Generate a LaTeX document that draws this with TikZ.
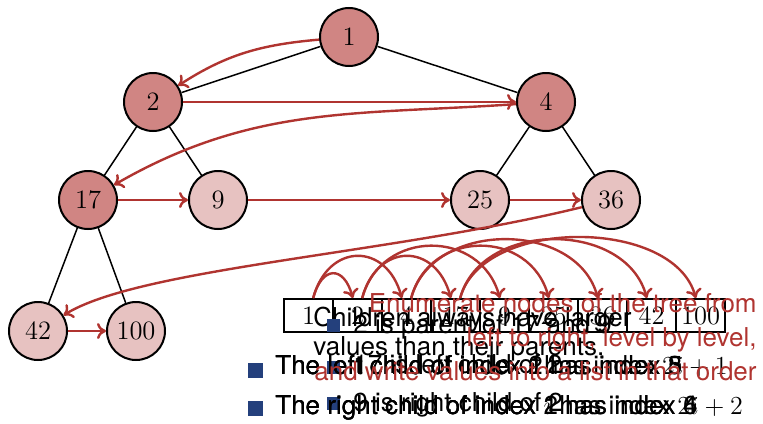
\RequirePackage{fix-cm}
\documentclass[tikz,border=0pt]{standalone}
\usepackage{fontspec}
\newfontfamily\sansf{TeX Gyre Heros}
\usetikzlibrary{arrows.meta}
\definecolor{arrred}{RGB}{176,52,48}
\colorlet{darkfill}{arrred!60!white}
\colorlet{lightfill}{arrred!30!white}
\definecolor{bulletblue}{RGB}{36,64,124}
\begin{document}
\begin{tikzpicture}[x=0.5pt,y=-0.5pt,
  treenode/.style={circle,draw=black,line width=1pt,minimum size=29pt,inner sep=0pt,font=\fontsize{13.25}{15}\selectfont},
  darknode/.style={treenode,fill=darkfill},
  lightnode/.style={treenode,fill=lightfill},
  treeedge/.style={draw=black,line width=0.75pt},
  enum/.style={draw=arrred,line width=1.2pt,-{To[length=4.5pt,width=8pt]}},
  arc/.style={enum,out=75,in=105},
  cell/.style={draw=black,line width=0.9pt,minimum width=24.5pt,minimum height=16.5pt,inner sep=0pt,font=\fontsize{13.25}{15}\selectfont},
  txt/.style={anchor=base west,inner sep=0pt,font=\sansf\fontsize{13}{15}\selectfont},
  redtxt/.style={anchor=base east,inner sep=0pt,text=arrred,font=\sansf\fontsize{13}{15}\selectfont},
  bigbullet/.style={fill=bulletblue,inner sep=0pt,minimum size=7.5pt},
  smallbullet/.style={fill=bulletblue,inner sep=0pt,minimum size=6.5pt}
]
\useasboundingbox (0,0) rectangle (763,423);

% tree nodes
\node[darknode] (n1) at (349,37) {1};
\node[darknode] (n2) at (153,102) {2};
\node[darknode] (n4) at (546,102) {4};
\node[darknode] (n17) at (88,200) {17};
\node[lightnode] (n9) at (218,200) {9};
\node[lightnode] (n25) at (480,200) {25};
\node[lightnode] (n36) at (611,200) {36};
\node[lightnode] (n42) at (38,331) {42};
\node[lightnode] (n100) at (136,331) {100};

% tree edges
\draw[treeedge] (n1) -- (n2);
\draw[treeedge] (n1) -- (n4);
\draw[treeedge] (n2) -- (n17);
\draw[treeedge] (n2) -- (n9);
\draw[treeedge] (n4) -- (n25);
\draw[treeedge] (n4) -- (n36);
\draw[treeedge] (n17) -- (n42);
\draw[treeedge] (n17) -- (n100);

% enumeration order
\draw[enum] (n1) to[out=185,in=33] (n2);
\draw[enum] (n2) -- (n4);
\draw[enum] (n4) to[out=184,in=30] (n17);
\draw[enum] (n17) -- (n9);
\draw[enum] (n9) -- (n25);
\draw[enum] (n25) -- (n36);
\draw[enum] (n36) .. controls (391,254) and (140,268) .. (n42);
\draw[enum] (n42) -- (n100);

% array
\node[cell] (c1) at (308.5,315.5) {1};
\node[cell] (c2) at (357.5,315.5) {2};
\node[cell] (c3) at (406.5,315.5) {4};
\node[cell] (c4) at (455.5,315.5) {17};
\node[cell] (c5) at (504.5,315.5) {9};
\node[cell] (c6) at (553.5,315.5) {25};
\node[cell] (c7) at (602.5,315.5) {36};
\node[cell] (c8) at (651.5,315.5) {42};
\node[cell] (c9) at (700.5,315.5) {100};

% parent -> child arcs
\draw[arc,distance=17pt] (c1) to (c2);
\draw[arc,distance=29pt] (c1) to (c3);
\draw[arc,distance=29pt] (c2) to (c4);
\draw[arc,distance=36pt] (c2) to (c5);
\draw[arc,distance=36pt] (c3) to (c6);
\draw[arc,distance=40.5pt] (c3) to (c7);
\draw[arc,distance=40.5pt] (c4) to (c8);
\draw[arc,distance=42pt] (c4) to (c9);

% texts
\node[txt] (ch1) at (313,326) {Children always have larger};
\node[txt] (ch2) at (313,355) {values than their parents.};

\node[smallbullet] (sb1) at (333.5,325) {};
\node[smallbullet] (sb2) at (333.5,367.5) {};
\node[smallbullet] (sb3) at (333.5,403.5) {};
\node[txt] (st1) at (353,333) {2 is parent of 17 and 9};
\node[txt] (st2) at (353,373) {17 is left child of 2};
\node[txt] (st3) at (353,411) {9 is right child of 2};

\node[bigbullet] (bb1) at (255.5,370) {};
\node[bigbullet] (bb2) at (255.5,408.5) {};
\node[txt] (lA) at (275,374) {The left child of index 1 has index 3};
\node[txt] (lB) at (275,374) {The left child of index 2 has index 5};
\node[txt] (lC) at (275,374) {The left child of index $i$ has index $2i+1$};
\node[txt] (rA) at (275,414) {The right child of index 1 has index 4};
\node[txt] (rB) at (275,414) {The right child of index 2 has index 6};
\node[txt] (rC) at (275,414) {The right child of index $i$ has index $2i+2$};

\node[redtxt] (e1) at (757,312) {Enumerate nodes of the tree from};
\node[redtxt] (e2) at (757,346) {left to right, level by level,};
\node[redtxt] (e3) at (757,380) {and write values into a list in that order};
\end{tikzpicture}
\end{document}
